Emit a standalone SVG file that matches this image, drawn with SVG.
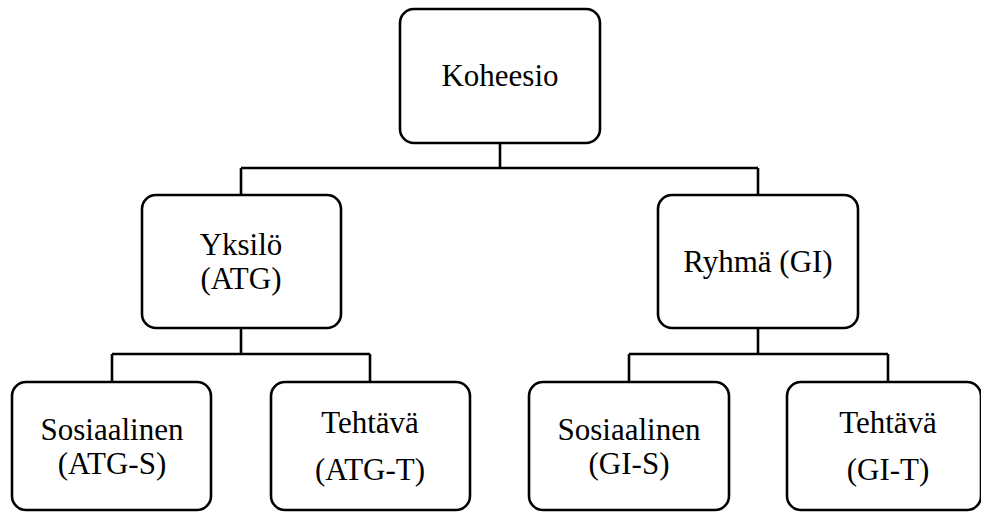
<svg xmlns="http://www.w3.org/2000/svg" width="981" height="512" viewBox="0 0 981 512">
<style>
.box{fill:#fff;stroke:#000;stroke-width:2.6}
.ln{fill:none;stroke:#000;stroke-width:2.6}
.t{font-family:'Liberation Serif','Times New Roman',serif;font-size:31px;fill:#000;text-anchor:middle}
</style>
<rect width="981" height="512" fill="#fff"/>
<g id="connectors">
<path class="ln" d="M500 143V168M241 168H758M241 168V195M758 168V195"/>
<path class="ln" d="M241 328V354M112 354H370M112 354V382M370 354V382"/>
<path class="ln" d="M758 328V354M629 354H888M629 354V382M888 354V382"/>
</g>
<g id="koheesio"><rect class="box" x="400" y="9" width="200" height="134" rx="14"/><text class="t" x="500" y="86">Koheesio</text></g>
<g id="yksilo"><rect class="box" x="142" y="195" width="199" height="133" rx="14"/><text class="t" x="241" y="255">Yksilö</text><text class="t" x="241" y="289">(ATG)</text></g>
<g id="ryhma"><rect class="box" x="658" y="195" width="200" height="133" rx="14"/><text class="t" x="758" y="272">Ryhmä (GI)</text></g>
<g id="atg-s"><rect class="box" x="12" y="382" width="199" height="128" rx="14"/><text class="t" x="112" y="440">Sosiaalinen</text><text class="t" x="112" y="474">(ATG-S)</text></g>
<g id="atg-t"><rect class="box" x="271" y="382" width="199" height="128" rx="14"/><text class="t" x="370" y="433">Tehtävä</text><text class="t" x="370" y="480">(ATG-T)</text></g>
<g id="gi-s"><rect class="box" x="529" y="382" width="200" height="128" rx="14"/><text class="t" x="629" y="440">Sosiaalinen</text><text class="t" x="629" y="474">(GI-S)</text></g>
<g id="gi-t"><rect class="box" x="787" y="382" width="194" height="128" rx="14"/><text class="t" x="888" y="433">Tehtävä</text><text class="t" x="888" y="480">(GI-T)</text></g>
</svg>
